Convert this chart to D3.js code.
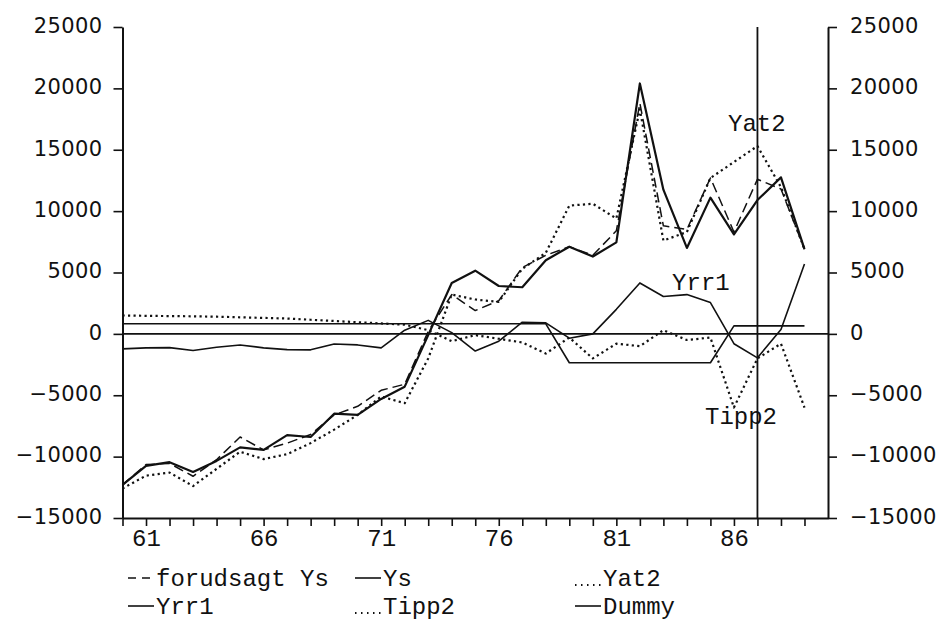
<!DOCTYPE html>
<html>
<head>
<meta charset="utf-8">
<script src="https://cdn.jsdelivr.net/npm/d3@7"></script>
<style>
  html, body { margin: 0; padding: 0; background: #fff; }
  svg { display: block; }
</style>
</head>
<body>
<svg id="chart" width="947" height="630"></svg>
<script>
// Years 1960-1989 (two-digit labels on the axis)
const years = d3.range(60, 90);

const forudsagtYs = [-12300, -10650, -10550, -11600, -10250, -8400, -9450, -8900, -8200, -6600,
  -5900, -4600, -4100, 200, 3200, 1900, 2700, 5400, 6400, 7100,
  6400, 8400, 18800, 8800, 8500, 12700, 8300, 12600, 11800, 6900];

const ys = [-12300, -10750, -10450, -11250, -10350, -9250, -9450, -8250, -8400, -6500,
  -6600, -5300, -4300, -100, 4150, 5150, 3900, 3800, 6000, 7100,
  6300, 7450, 20400, 11750, 7000, 11100, 8100, 10900, 12750, 6900];

const yat2 = [-12600, -11550, -11300, -12400, -11000, -9600, -10200, -9800, -8900, -7800,
  -6600, -5100, -5650, -2000, 3200, 2800, 2600, 5300, 6600, 10450,
  10600, 9400, 18300, 7600, 8300, 12700, 14000, 15300, 11950, 6900];

const yrr1 = [-1220, -1140, -1120, -1360, -1090, -900, -1140, -1280, -1300, -820,
  -900, -1140, 300, 1100, 100, -1400, -600, 950, 900, -350,
  0, 2000, 4150, 3050, 3200, 2550, -800, -1950, 350, 5700];

const tipp2 = [1500, 1470, 1450, 1430, 1400, 1350, 1300, 1250, 1150, 1050,
  950, 850, 750, 300, -600, -100, -400, -700, -1600, -300,
  -2000, -800, -1000, 300, -500, -300, -6000, -2000, -800, -6000];

const dummy = [820, 820, 820, 820, 820, 820, 820, 820, 820, 820,
  820, 820, 820, 820, 820, 820, 820, 820, 820, -2350,
  -2350, -2350, -2350, -2350, -2350, -2350, 650, 650, 650, 650];

const yTicks = [-15000, -10000, -5000, 0, 5000, 10000, 15000, 20000, 25000];
const xTickLabels = ["61", "66", "71", "76", "81", "86"];
const markerYear = 87;

const series = [
  { name: "forudsagt Ys", values: forudsagtYs, dash: "10,5", width: 1.5 },
  { name: "Ys", values: ys, dash: null, width: 2.2 },
  { name: "Yat2", values: yat2, dash: "2.2,3.3", width: 2.2 },
  { name: "Yrr1", values: yrr1, dash: null, width: 1.6 },
  { name: "Tipp2", values: tipp2, dash: "2.2,3.3", width: 2.2 },
  { name: "Dummy", values: dummy, dash: null, width: 1.6 }
];

const inlineLabels = [
  { text: "Yat2", year: 85.75, value: 16500 },
  { text: "Yrr1", year: 83.37, value: 3570 },
  { text: "Tipp2", year: 84.77, value: -7340 }
];

const svg = d3.select("#chart");
const x = d3.scaleLinear().domain([60, 90]).range([122.5, 828]);
const y = d3.scaleLinear().domain([-15000, 25000]).range([518, 27]);

const ink = "#111";
const numFont = "'DejaVu Sans', sans-serif";
const plotFont = "'Liberation Mono', 'DejaVu Sans Mono', monospace";
const fmt = d3.format("d");

// Left value axis
const left = svg.append("g")
  .attr("transform", `translate(${x(60)},0)`)
  .call(d3.axisLeft(y).tickValues(yTicks).tickFormat(fmt).tickSize(9).tickSizeOuter(0).tickPadding(11));
// Right value axis
const right = svg.append("g")
  .attr("transform", `translate(${x(90)},0)`)
  .call(d3.axisRight(y).tickValues(yTicks).tickFormat(fmt).tickSize(9).tickSizeOuter(0).tickPadding(13));
[left, right].forEach(g => {
  g.select(".domain").attr("stroke", ink).attr("stroke-width", 2);
  g.selectAll(".tick line").attr("stroke", ink).attr("stroke-width", 1.6);
  g.selectAll(".tick text")
    .attr("fill", ink)
    .style("font-family", numFont)
    .style("font-size", "21px")
    .style("letter-spacing", "0.4px")
    .attr("dy", "0.25em");
});

// Year axis along the bottom
const bottom = svg.append("g")
  .attr("transform", `translate(0,${y(-15000)})`)
  .call(d3.axisBottom(x).tickValues(years).tickSize(8).tickSizeOuter(0).tickPadding(3)
    .tickFormat(d => xTickLabels.includes(String(d)) ? String(d) : ""));
bottom.select(".domain").attr("stroke", ink).attr("stroke-width", 2);
bottom.selectAll(".tick line").attr("stroke", ink).attr("stroke-width", 1.6);
bottom.selectAll(".tick text")
  .attr("fill", ink)
  .style("font-family", plotFont)
  .style("font-size", "24px")
  .attr("dy", "0.71em");

// Zero reference line and the marker year
svg.append("line")
  .attr("x1", x(60)).attr("x2", x(90))
  .attr("y1", y(0)).attr("y2", y(0))
  .attr("stroke", ink).attr("stroke-width", 1.8);
svg.append("line")
  .attr("x1", x(markerYear)).attr("x2", x(markerYear))
  .attr("y1", y(25000)).attr("y2", y(-15000))
  .attr("stroke", ink).attr("stroke-width", 1.8);

// Series lines
const line = d3.line().x((d, i) => x(years[i])).y(d => y(d));
svg.append("g").selectAll("path")
  .data(series)
  .join("path")
  .attr("d", s => line(s.values))
  .attr("fill", "none")
  .attr("stroke", ink)
  .attr("stroke-width", s => s.width)
  .attr("stroke-dasharray", s => s.dash)
  .attr("stroke-linejoin", "round");

// Names written next to their lines
svg.append("g").selectAll("text")
  .data(inlineLabels)
  .join("text")
  .attr("x", d => x(d.year))
  .attr("y", d => y(d.value))
  .attr("fill", ink)
  .style("font-family", plotFont)
  .style("font-size", "24px")
  .text(d => d.text);

// Legend: two rows of three entries
const legendCols = [128, 355, 575];
const legendRows = [586, 614];
const legend = svg.append("g");
series.forEach((s, i) => {
  const gx = legendCols[i % 3];
  const gy = legendRows[Math.floor(i / 3)];
  const dotted = s.dash && s.dash.startsWith("2");
  const dashed = s.dash && !dotted;
  legend.append("line")
    .attr("x1", gx).attr("x2", gx + (dashed ? 24 : 26))
    .attr("y1", dotted ? gy - 1 : gy - 8).attr("y2", dotted ? gy - 1 : gy - 8)
    .attr("stroke", ink)
    .attr("stroke-width", dotted ? 1.8 : 1.6)
    .attr("stroke-dasharray", dashed ? "8,6" : (dotted ? "1.5,4.5" : null));
  legend.append("text")
    .attr("x", gx + 28)
    .attr("y", gy)
    .attr("fill", ink)
    .style("font-family", plotFont)
    .style("font-size", "24px")
    .text(s.name);
});
</script>
</body>
</html>
